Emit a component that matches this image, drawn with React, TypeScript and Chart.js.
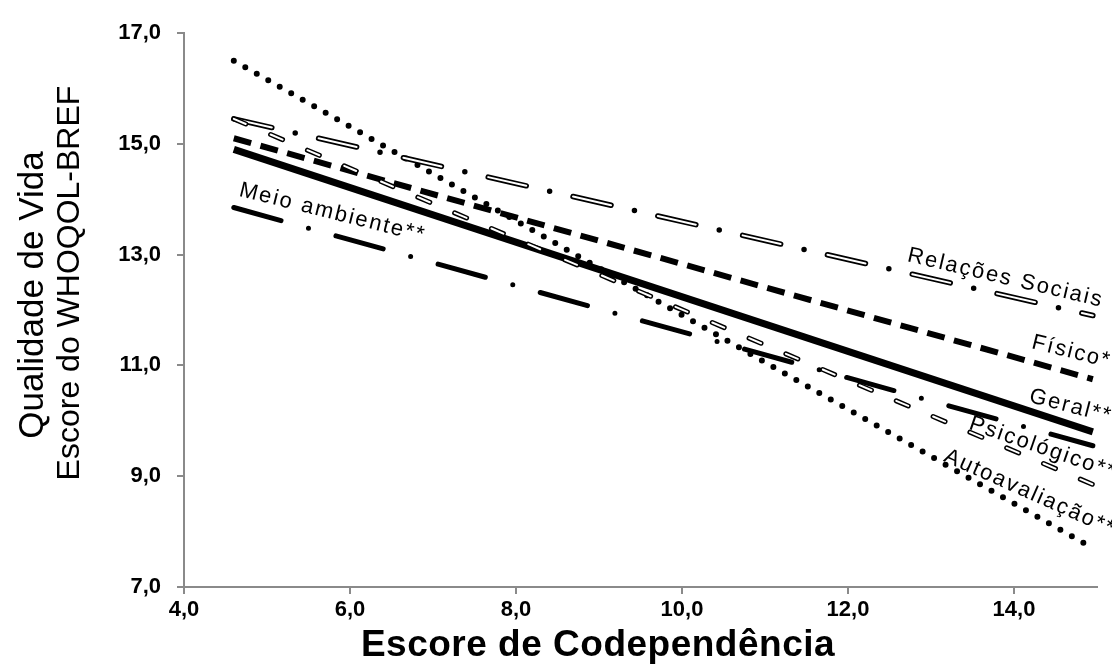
import React, { useEffect, useRef } from "react";
import { Chart, registerables } from "chart.js";

Chart.register(...registerables);

// ---- Data ----
const codependencia = [4.6, 14.95]; // x range of the fitted lines
const autoavaliacao = [16.5, 7.7];
const relacoesSociais = [15.45, 11.9];
const fisico = [15.1, 10.75];
const geral = [14.9, 9.8];
const psicologico = [15.45, 8.85];
const meioAmbiente = [13.85, 9.55];

const xTickValues = [4, 6, 8, 10, 12, 14];
const yTickValues = [7, 9, 11, 13, 15, 17];

const xTitle = "Escore de Codependência";
const yTitle = ["Qualidade de Vida", "Escore do WHOQOL-BREF"];

// label text + anchor (data coordinates) + rotation in degrees
const lineLabels = [
  { text: "Relações Sociais", x: 12.72, y: 12.99, angle: 13.2 },
  { text: "Físico*", x: 14.22, y: 11.42, angle: 14 },
  { text: "Geral**", x: 14.19, y: 10.45, angle: 14.5 },
  { text: "Psicológico**", x: 13.47, y: 9.96, angle: 19 },
  { text: "Autoavaliação**", x: 13.17, y: 9.38, angle: 24 },
  { text: "Meio ambiente**", x: 4.67, y: 14.17, angle: 14 },
];

const FONT = '"Liberation Sans", Arial, Helvetica, sans-serif';

const pts = (vals: number[]) => vals.map((v, i) => ({ x: codependencia[i], y: v }));
const fmt = (v: number) => Number(v).toFixed(1).replace(".", ",");

const labelPlugin = {
  id: "lineLabels",
  afterDatasetsDraw(chart: any) {
    const { ctx, scales } = chart;
    const xs = scales.x;
    const ys = scales.y;
    ctx.save();
    ctx.font = `22px ${FONT}`;
    ctx.fillStyle = "#000";
    ctx.textBaseline = "middle";
    ctx.textAlign = "left";
    ctx.letterSpacing = "2px";
    for (const l of lineLabels) {
      ctx.save();
      ctx.translate(xs.getPixelForValue(l.x), ys.getPixelForValue(l.y));
      ctx.rotate((l.angle * Math.PI) / 180);
      ctx.fillText(l.text, 0, 0);
      ctx.restore();
    }
    ctx.restore();
  },
};

const axisTitlePlugin = {
  id: "axisTitles",
  afterDraw(chart: any) {
    const { ctx, chartArea } = chart;
    ctx.save();
    ctx.fillStyle = "#000";
    ctx.textAlign = "center";
    ctx.textBaseline = "middle";
    // x title
    ctx.font = `bold 37px ${FONT}`;
    ctx.letterSpacing = "0.5px";
    ctx.fillText(xTitle, chartArea.left + 414, chartArea.bottom + 59);
    // y title (two lines, rotated)
    ctx.letterSpacing = "0px";
    ctx.save();
    ctx.font = `35px ${FONT}`;
    ctx.translate(33, chartArea.top + 262);
    ctx.rotate(-Math.PI / 2);
    ctx.fillText(yTitle[0], 0, 0);
    ctx.restore();
    ctx.save();
    ctx.font = `32px ${FONT}`;
    ctx.translate(70, chartArea.top + 250);
    ctx.rotate(-Math.PI / 2);
    ctx.fillText(yTitle[1], 0, 0);
    ctx.restore();
    ctx.restore();
  },
};

export default function App() {
  const ref = useRef<HTMLCanvasElement | null>(null);

  useEffect(() => {
    if (!ref.current) return;
    const base = {
      pointRadius: 0,
      pointHoverRadius: 0,
      tension: 0,
      fill: false,
    };
    const chart = new Chart(ref.current, {
      type: "line",
      data: {
        datasets: [
          {
            ...base,
            label: "Autoavaliação",
            data: pts(autoavaliacao),
            borderColor: "#000",
            borderWidth: 6,
            borderCapStyle: "round",
            borderDash: [0, 13.2],
            order: 8,
          },
          {
            ...base,
            label: "Relações Sociais",
            data: pts(relacoesSociais),
            borderColor: "#000",
            borderWidth: 5.5,
            borderCapStyle: "round",
            borderDash: [39, 24, 0, 24],
            order: 7,
          },
          {
            ...base,
            label: "Relações Sociais (inner)",
            data: pts(relacoesSociais),
            borderColor: "#fff",
            borderWidth: 2,
            borderCapStyle: "round",
            borderDash: [39, 48],
            order: 6,
          },
          {
            ...base,
            label: "Físico",
            data: pts(fisico),
            borderColor: "#000",
            borderWidth: 6,
            borderCapStyle: "butt",
            borderDash: [18, 9.7],
            order: 5,
          },
          {
            ...base,
            label: "Geral",
            data: pts(geral),
            borderColor: "#000",
            borderWidth: 7,
            order: 4,
          },
          {
            ...base,
            label: "Psicológico",
            data: pts(psicologico),
            borderColor: "#000",
            borderWidth: 5,
            borderCapStyle: "round",
            borderDash: [13, 27],
            order: 3,
          },
          {
            ...base,
            label: "Psicológico (inner)",
            data: pts(psicologico),
            borderColor: "#fff",
            borderWidth: 2,
            borderCapStyle: "round",
            borderDash: [13, 27],
            order: 2,
          },
          {
            ...base,
            label: "Meio ambiente",
            data: pts(meioAmbiente),
            borderColor: "#000",
            borderWidth: 5,
            borderCapStyle: "round",
            borderDash: [49, 28.5, 0, 28.5],
            order: 1,
          },
        ],
      },
      options: {
        animation: false,
        responsive: true,
        maintainAspectRatio: false,
        layout: { padding: { top: 33, right: 15, left: 0, bottom: 0 } },
        plugins: {
          legend: { display: false },
          tooltip: { enabled: false },
          title: { display: false },
        },
        scales: {
          x: {
            type: "linear",
            min: 4,
            max: 15,
            afterBuildTicks: (s: any) => {
              s.ticks = xTickValues.map((value) => ({ value }));
            },
            afterFit: (s: any) => {
              s.height = 82;
            },
            ticks: {
              color: "#000",
              font: { family: FONT, size: 22, weight: "bold" },
              padding: 3,
              maxRotation: 0,
              autoSkip: false,
              callback: (v: any) => fmt(v),
            },
            grid: {
              display: true,
              drawOnChartArea: false,
              drawTicks: true,
              tickLength: 7,
              color: "#8a8a8a",
              lineWidth: 2,
            },
            border: { display: true, color: "#8a8a8a", width: 2 },
            title: { display: false, text: xTitle },
          },
          y: {
            type: "linear",
            min: 7,
            max: 17,
            afterBuildTicks: (s: any) => {
              s.ticks = yTickValues.map((value) => ({ value }));
            },
            afterFit: (s: any) => {
              s.width = 184;
            },
            ticks: {
              color: "#000",
              font: { family: FONT, size: 22, weight: "bold" },
              padding: 16,
              callback: (v: any) => fmt(v),
            },
            grid: {
              display: true,
              drawOnChartArea: false,
              drawTicks: true,
              tickLength: 7,
              color: "#8a8a8a",
              lineWidth: 2,
            },
            border: { display: true, color: "#8a8a8a", width: 2 },
            title: { display: false, text: yTitle },
          },
        },
      } as any,
      plugins: [labelPlugin, axisTitlePlugin],
    });
    return () => chart.destroy();
  }, []);

  return (
    <div
      style={{
        position: "fixed",
        left: 0,
        top: 0,
        width: 1112,
        height: 669,
        background: "#fff",
      }}
    >
      <canvas ref={ref} />
    </div>
  );
}
